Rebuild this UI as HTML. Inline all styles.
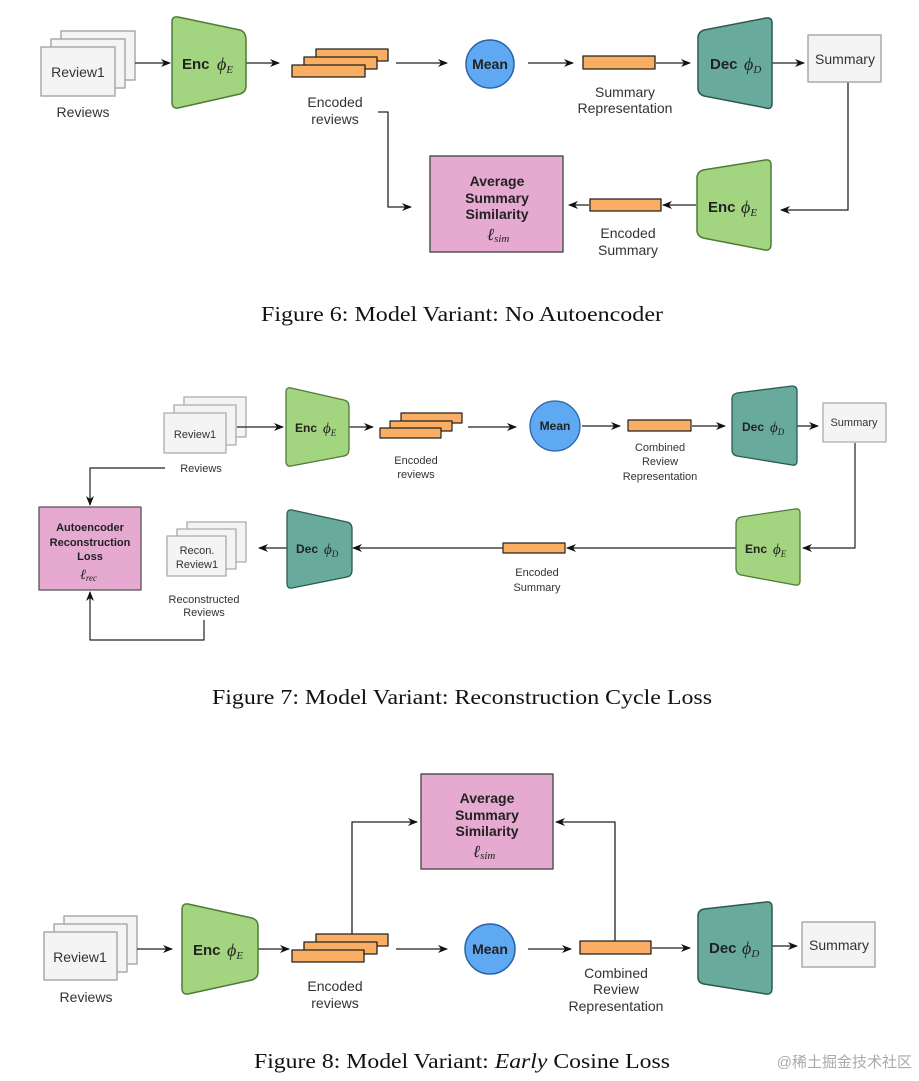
<!DOCTYPE html>
<html><head><meta charset="utf-8"><style>
html,body{margin:0;padding:0;background:#fff;}
svg{display:block}
.s{font-family:"Liberation Sans",sans-serif;fill:#333;}
.b{font-family:"Liberation Sans",sans-serif;font-weight:bold;fill:#222;}
.m{font-family:"Liberation Serif",serif;font-style:italic;fill:#222;}
.cap{font-family:"Liberation Serif",serif;fill:#111;font-size:21px;}
</style></head><body>
<svg width="919" height="1081" viewBox="0 0 919 1081" xmlns="http://www.w3.org/2000/svg">
<defs><marker id="a" markerWidth="10" markerHeight="8" refX="9" refY="4" orient="auto" markerUnits="userSpaceOnUse"><path d="M0,0 L10,4 L0,8 L3,4 z" fill="#111"/></marker></defs>
<g stroke-linejoin="round">
<!-- ===== Figure 6 ===== -->
<g fill="#f4f4f4" stroke="#aaa" stroke-width="1.5">
<rect x="61" y="31" width="74" height="49"/><rect x="51" y="39" width="74" height="49"/><rect x="41" y="47" width="74" height="49"/></g>
<text x="78" y="77" class="s" font-size="14" text-anchor="middle">Review1</text>
<text x="83" y="117" class="s" font-size="14" text-anchor="middle">Reviews</text>
<g stroke="#222" stroke-width="1.3" fill="none" marker-end="url(#a)">
<line x1="135" y1="63" x2="170" y2="63"/><line x1="246" y1="63" x2="279" y2="63"/>
<line x1="396" y1="63" x2="447" y2="63"/><line x1="528" y1="63" x2="573" y2="63"/>
<line x1="656" y1="63" x2="690" y2="63"/><line x1="772" y1="63" x2="804" y2="63"/>
<polyline points="848,82 848,210 781,210"/><line x1="696" y1="205" x2="663" y2="205"/>
<line x1="589" y1="205" x2="569" y2="205"/><polyline points="378,112 388,112 388,207 411,207"/>
</g>
<path d="M172,22 Q172,16 178,17 L240,30 Q246,32 246,40 L246,86 Q246,92 240,94 L178,108 Q172,109 172,102 Z" fill="#a3d47f" stroke="#4f7b38" stroke-width="1.5"/>
<text x="182" y="69" class="b" font-size="15">Enc</text><text x="217" y="70" class="m" font-size="18">ϕ<tspan font-size="11" dy="3">E</tspan></text>
<g fill="#f9ae63" stroke="#222" stroke-width="1.3"><rect x="316" y="49" width="72" height="12"/><rect x="304" y="57" width="73" height="12"/><rect x="292" y="65" width="73" height="12"/>
<rect x="583" y="56" width="72" height="13"/><rect x="590" y="199" width="71" height="12"/></g>
<text x="335" y="107" class="s" font-size="14" text-anchor="middle">Encoded</text><text x="335" y="124" class="s" font-size="14" text-anchor="middle">reviews</text>
<circle cx="490" cy="64" r="24" fill="#5ea9f2" stroke="#2a62a8" stroke-width="1.5"/>
<text x="490" y="69" class="b" font-size="14" text-anchor="middle">Mean</text>
<text x="625" y="97" class="s" font-size="14" text-anchor="middle">Summary</text><text x="625" y="113" class="s" font-size="14" text-anchor="middle">Representation</text>
<path d="M698,38 Q698,32 704,30 L766,18 Q772,17 772,23 L772,103 Q772,110 766,108 L704,96 Q698,94 698,88 Z" fill="#68ab9d" stroke="#2c5a50" stroke-width="1.5"/>
<text x="710" y="69" class="b" font-size="15">Dec</text><text x="744" y="70" class="m" font-size="18">ϕ<tspan font-size="11" dy="3">D</tspan></text>
<rect x="808" y="35" width="73" height="47" fill="#f4f4f4" stroke="#aaa" stroke-width="1.5"/>
<text x="845" y="64" class="s" font-size="14" text-anchor="middle">Summary</text>
<path d="M697,178 Q697,172 703,170 L765,160 Q771,159 771,165 L771,244 Q771,251 765,250 L703,238 Q697,236 697,230 Z" fill="#a3d47f" stroke="#4f7b38" stroke-width="1.5"/>
<text x="708" y="212" class="b" font-size="15">Enc</text><text x="741" y="213" class="m" font-size="18">ϕ<tspan font-size="11" dy="3">E</tspan></text>
<text x="628" y="238" class="s" font-size="14" text-anchor="middle">Encoded</text><text x="628" y="255" class="s" font-size="14" text-anchor="middle">Summary</text>
<rect x="430" y="156" width="133" height="96" fill="#e6a9cf" stroke="#555" stroke-width="1.5"/>
<text x="497" y="186" class="b" font-size="14" text-anchor="middle">Average</text><text x="497" y="203" class="b" font-size="14" text-anchor="middle">Summary</text><text x="497" y="219" class="b" font-size="14" text-anchor="middle">Similarity</text>
<text x="487" y="240" class="m" font-size="17">ℓ<tspan font-size="11" dy="2">sim</tspan></text>
<text x="462" y="321" class="cap" text-anchor="middle" textLength="402" lengthAdjust="spacingAndGlyphs">Figure 6: Model Variant: No Autoencoder</text>

<!-- ===== Figure 7 ===== -->
<g fill="#f4f4f4" stroke="#aaa" stroke-width="1.3">
<rect x="184" y="397" width="62" height="40"/><rect x="174" y="405" width="62" height="40"/><rect x="164" y="413" width="62" height="40"/>
<rect x="187" y="522" width="59" height="40"/><rect x="177" y="529" width="59" height="40"/><rect x="167" y="536" width="59" height="40"/></g>
<text x="195" y="438" class="s" font-size="11" text-anchor="middle">Review1</text>
<text x="201" y="472" class="s" font-size="11" text-anchor="middle">Reviews</text>
<text x="197" y="554" class="s" font-size="11" text-anchor="middle">Recon.</text><text x="197" y="568" class="s" font-size="11" text-anchor="middle">Review1</text>
<text x="204" y="603" class="s" font-size="11" text-anchor="middle">Reconstructed</text><text x="204" y="616" class="s" font-size="11" text-anchor="middle">Reviews</text>
<g stroke="#222" stroke-width="1.2" fill="none" marker-end="url(#a)">
<line x1="237" y1="427" x2="283" y2="427"/><line x1="349" y1="427" x2="373" y2="427"/>
<line x1="468" y1="427" x2="516" y2="427"/><line x1="582" y1="426" x2="620" y2="426"/>
<line x1="692" y1="426" x2="725" y2="426"/><line x1="797" y1="426" x2="818" y2="426"/>
<polyline points="855,443 855,548 803,548"/><line x1="736" y1="548" x2="567" y2="548"/>
<line x1="503" y1="548" x2="353" y2="548"/><line x1="287" y1="548" x2="259" y2="548"/>
<polyline points="165,468 90,468 90,505"/><polyline points="204,620 204,640 90,640 90,592"/>
</g>
<path d="M286,392 Q286,387 291,388 L344,400 Q349,401 349,407 L349,449 Q349,455 344,456 L291,466 Q286,467 286,461 Z" fill="#a3d47f" stroke="#4f7b38" stroke-width="1.3"/>
<text x="295" y="432" class="b" font-size="12">Enc</text><text x="323" y="433" class="m" font-size="15">ϕ<tspan font-size="9" dy="3">E</tspan></text>
<g fill="#f9ae63" stroke="#222" stroke-width="1.2"><rect x="401" y="413" width="61" height="10"/><rect x="390" y="421" width="62" height="10"/><rect x="380" y="428" width="61" height="10"/>
<rect x="628" y="420" width="63" height="11"/><rect x="503" y="543" width="62" height="10"/></g>
<text x="416" y="464" class="s" font-size="11" text-anchor="middle">Encoded</text><text x="416" y="478" class="s" font-size="11" text-anchor="middle">reviews</text>
<circle cx="555" cy="426" r="25" fill="#5ea9f2" stroke="#2a62a8" stroke-width="1.3"/>
<text x="555" y="430" class="b" font-size="12" text-anchor="middle">Mean</text>
<text x="660" y="451" class="s" font-size="11" text-anchor="middle">Combined</text><text x="660" y="465" class="s" font-size="11" text-anchor="middle">Review</text><text x="660" y="480" class="s" font-size="11" text-anchor="middle">Representation</text>
<path d="M732,399 Q732,394 737,393 L792,386 Q797,386 797,391 L797,461 Q797,466 792,465 L737,456 Q732,455 732,450 Z" fill="#68ab9d" stroke="#2c5a50" stroke-width="1.3"/>
<text x="742" y="431" class="b" font-size="12">Dec</text><text x="770" y="432" class="m" font-size="15">ϕ<tspan font-size="9" dy="3">D</tspan></text>
<rect x="823" y="403" width="63" height="39" fill="#f4f4f4" stroke="#aaa" stroke-width="1.3"/>
<text x="854" y="426" class="s" font-size="11" text-anchor="middle">Summary</text>
<path d="M736,524 Q736,518 741,517 L795,509 Q800,508 800,513 L800,581 Q800,586 795,585 L741,575 Q736,574 736,568 Z" fill="#a3d47f" stroke="#4f7b38" stroke-width="1.3"/>
<text x="745" y="553" class="b" font-size="12">Enc</text><text x="773" y="554" class="m" font-size="15">ϕ<tspan font-size="9" dy="3">E</tspan></text>
<text x="537" y="576" class="s" font-size="11" text-anchor="middle">Encoded</text><text x="537" y="591" class="s" font-size="11" text-anchor="middle">Summary</text>
<path d="M287,515 Q287,509 292,510 L347,522 Q352,523 352,529 L352,570 Q352,576 347,577 L292,588 Q287,589 287,583 Z" fill="#68ab9d" stroke="#2c5a50" stroke-width="1.3"/>
<text x="296" y="553" class="b" font-size="12">Dec</text><text x="324" y="554" class="m" font-size="15">ϕ<tspan font-size="9" dy="3">D</tspan></text>
<rect x="39" y="507" width="102" height="83" fill="#e6a9cf" stroke="#555" stroke-width="1.3"/>
<text x="90" y="531" class="b" font-size="11" text-anchor="middle">Autoencoder</text><text x="90" y="546" class="b" font-size="11" text-anchor="middle">Reconstruction</text><text x="90" y="560" class="b" font-size="11" text-anchor="middle">Loss</text>
<text x="80" y="579" class="m" font-size="14">ℓ<tspan font-size="9" dy="2">rec</tspan></text>
<text x="462" y="704" class="cap" text-anchor="middle" textLength="500" lengthAdjust="spacingAndGlyphs">Figure 7: Model Variant: Reconstruction Cycle Loss</text>

<!-- ===== Figure 8 ===== -->
<g fill="#f4f4f4" stroke="#aaa" stroke-width="1.5">
<rect x="64" y="916" width="73" height="48"/><rect x="54" y="924" width="73" height="48"/><rect x="44" y="932" width="73" height="48"/></g>
<text x="80" y="962" class="s" font-size="14" text-anchor="middle">Review1</text>
<text x="86" y="1002" class="s" font-size="14" text-anchor="middle">Reviews</text>
<g stroke="#222" stroke-width="1.3" fill="none" marker-end="url(#a)">
<line x1="137" y1="949" x2="172" y2="949"/><line x1="258" y1="949" x2="289" y2="949"/>
<line x1="396" y1="949" x2="447" y2="949"/><line x1="528" y1="949" x2="571" y2="949"/>
<line x1="652" y1="948" x2="690" y2="948"/><line x1="772" y1="946" x2="797" y2="946"/>
<polyline points="352,934 352,822 417,822"/><polyline points="615,941 615,822 556,822"/>
</g>
<path d="M182,910 Q182,903 188,904 L252,918 Q258,920 258,926 L258,972 Q258,978 252,980 L188,994 Q182,995 182,988 Z" fill="#a3d47f" stroke="#4f7b38" stroke-width="1.5"/>
<text x="193" y="955" class="b" font-size="15">Enc</text><text x="227" y="956" class="m" font-size="18">ϕ<tspan font-size="11" dy="3">E</tspan></text>
<g fill="#f9ae63" stroke="#222" stroke-width="1.3"><rect x="316" y="934" width="72" height="12"/><rect x="304" y="942" width="73" height="12"/><rect x="292" y="950" width="72" height="12"/>
<rect x="580" y="941" width="71" height="13"/></g>
<text x="335" y="991" class="s" font-size="14" text-anchor="middle">Encoded</text><text x="335" y="1008" class="s" font-size="14" text-anchor="middle">reviews</text>
<circle cx="490" cy="949" r="25" fill="#5ea9f2" stroke="#2a62a8" stroke-width="1.5"/>
<text x="490" y="954" class="b" font-size="14" text-anchor="middle">Mean</text>
<text x="616" y="978" class="s" font-size="14" text-anchor="middle">Combined</text><text x="616" y="994" class="s" font-size="14" text-anchor="middle">Review</text><text x="616" y="1011" class="s" font-size="14" text-anchor="middle">Representation</text>
<path d="M698,916 Q698,910 704,909 L766,902 Q772,901 772,907 L772,988 Q772,995 766,994 L704,984 Q698,983 698,977 Z" fill="#68ab9d" stroke="#2c5a50" stroke-width="1.5"/>
<text x="709" y="953" class="b" font-size="15">Dec</text><text x="742" y="954" class="m" font-size="18">ϕ<tspan font-size="11" dy="3">D</tspan></text>
<rect x="802" y="922" width="73" height="45" fill="#f4f4f4" stroke="#aaa" stroke-width="1.5"/>
<text x="839" y="950" class="s" font-size="14" text-anchor="middle">Summary</text>
<rect x="421" y="774" width="132" height="95" fill="#e6a9cf" stroke="#555" stroke-width="1.5"/>
<text x="487" y="803" class="b" font-size="14" text-anchor="middle">Average</text><text x="487" y="820" class="b" font-size="14" text-anchor="middle">Summary</text><text x="487" y="836" class="b" font-size="14" text-anchor="middle">Similarity</text>
<text x="473" y="857" class="m" font-size="17">ℓ<tspan font-size="11" dy="2">sim</tspan></text>
<text x="254" y="1068" class="cap" textLength="416" lengthAdjust="spacingAndGlyphs">Figure 8: Model Variant: <tspan font-style="italic">Early</tspan> Cosine Loss</text>
<text x="912" y="1067" font-family="'Liberation Sans','Noto Sans CJK SC',sans-serif" font-size="15" fill="#aaa" text-anchor="end">@稀土掘金技术社区</text>
</g>
</svg>
</body></html>
